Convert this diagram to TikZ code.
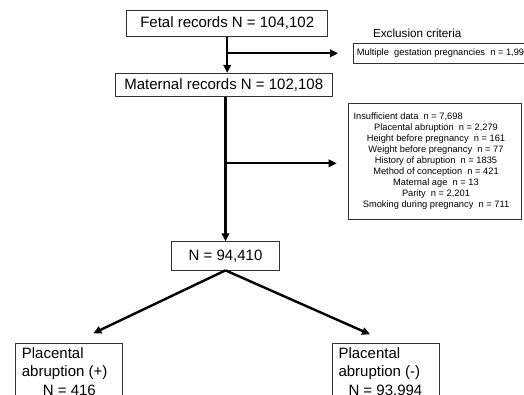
\documentclass[tikz,border=0pt]{standalone}
\usepackage{fontspec}
\setmainfont{Liberation Sans}
\usetikzlibrary{arrows.meta}
\begin{document}
\begin{tikzpicture}[x=1pt,y=-1pt,
  box/.style={draw=black!80,line width=0.8pt,inner sep=0pt,font=\fontsize{15}{18}\selectfont},
  ebox/.style={draw=black!80,line width=0.8pt,inner sep=0pt},
  conn/.style={line width=2.4pt,-{Triangle[length=8pt,width=7.5pt]}},
  big/.style={inner sep=0pt,font=\fontsize{15}{18.5}\selectfont,align=left},
  small/.style={inner sep=0pt,font=\fontsize{9.3}{11}\selectfont}]
\useasboundingbox (0,0) rectangle (524,395);
\clip (0,0) rectangle (524,395);
% main boxes
\node[box,minimum width=201pt,minimum height=26.7pt] (fetal) at (227.2,23.3) {Fetal records N = 104,102};
\node[box,minimum width=217.3pt,minimum height=23.4pt] (maternal) at (223.7,85) {Maternal records N = 102,108};
\node[box,minimum width=107.6pt,minimum height=28.3pt] (n94) at (225.5,255.8) {N = 94,410};
% exclusion header
\node[inner sep=0pt,font=\fontsize{11.7}{14}\selectfont] (exh) at (417.3,33) {Exclusion criteria};
% exclusion box 1
\node[ebox,anchor=north west,minimum width=200pt,minimum height=20pt] (exc1) at (352.7,43.3) {};
\node[small,anchor=west] (exc1t) at (356.7,53.3) {Multiple~ gestation pregnancies~ n = 1,994};
% exclusion box 2
\node[ebox,anchor=north west,minimum width=173.3pt,minimum height=116pt] (exc2) at (347.7,103.5) {};
\node[small,anchor=west] (ex0) at (353.3,117) {Insufficient data~ n = 7,698};
\foreach \t [count=\i] in {{Placental abruption~ n = 2,279},{Height before pregnancy~ n = 161},{Weight before pregnancy~ n = 77},{History of abruption~ n = 1835},{Method of conception~ n = 421},{Maternal age~ n = 13},{Parity~ n = 2,201},{Smoking during pregnancy~ n = 711}}
  \node[small] (ex\i) at (436,117+11*\i) {\t};
% bottom boxes
\node[ebox,anchor=north west,minimum width=106.7pt,minimum height=70pt] (pos) at (15,343.3) {};
\node[big,anchor=north west] (post) at (21.7,347.4) {Placental\\abruption (+)\\\hspace*{21pt}N = 416};
\node[ebox,anchor=north west,minimum width=107.6pt,minimum height=70pt] (neg) at (331.7,343.3) {};
\node[big,anchor=north west] (negt) at (338.3,347.4) {Placental\\abruption (-)\\\hspace*{10pt}N = 93,994};
% connectors
\draw[conn] (fetal.south) -- (fetal.south |- maternal.north);
\coordinate (b1) at (fetal.south |- 0,53.3);
\coordinate (t1) at (338,53.3);
\draw[conn] (b1) -- (t1);
\draw[conn] (n94.north |- maternal.south) -- (n94.north);
\coordinate (b2) at (n94.north |- 0,163.3);
\coordinate (t2) at (336.7,163.3);
\draw[conn] (b2) -- (t2);
\coordinate (dl) at (93.3,333.3);
\coordinate (dr) at (370,334.3);
\draw[conn] (n94.south) -- (dl);
\draw[conn] (n94.south) -- (dr);
\end{tikzpicture}
\end{document}
